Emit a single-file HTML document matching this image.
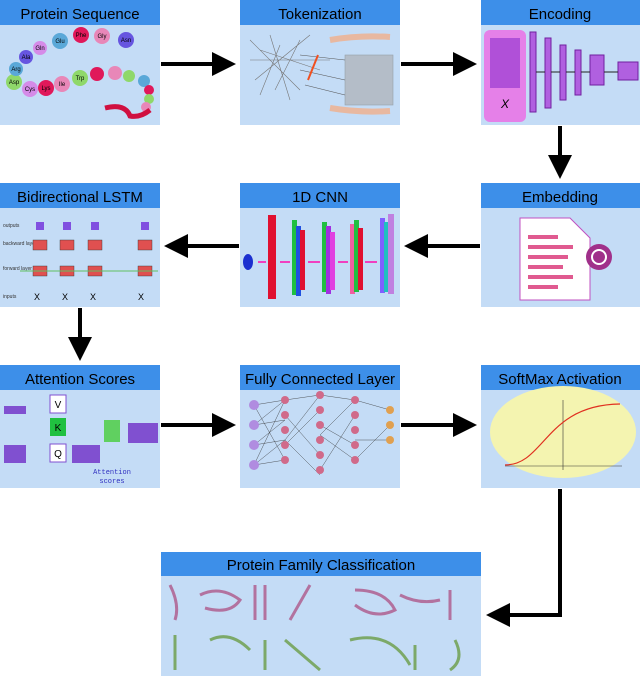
<!DOCTYPE html>
<html><head><meta charset="utf-8"><style>
body{margin:0;background:#fff;width:640px;height:676px;overflow:hidden;font-family:"Liberation Sans","DejaVu Sans",sans-serif}
svg{display:block}
</style></head><body>
<svg width="640" height="676" viewBox="0 0 640 676" xmlns="http://www.w3.org/2000/svg" font-family="Liberation Sans, DejaVu Sans, sans-serif">
<defs><marker id="ah" markerWidth="6" markerHeight="6" refX="5" refY="3" orient="auto" markerUnits="strokeWidth"><path d="M0,0 L6,3 L0,6 z" fill="#000"/></marker></defs>
<g id="panels">
<rect x="0" y="0" width="160" height="125" fill="#c4dcf6"/><rect x="0" y="0" width="160" height="25" fill="#3d8fe9"/>
<text x="80" y="19" text-anchor="middle" font-size="15">Protein Sequence</text>
<rect x="240" y="0" width="160" height="125" fill="#c4dcf6"/><rect x="240" y="0" width="160" height="25" fill="#3d8fe9"/>
<text x="320" y="19" text-anchor="middle" font-size="15">Tokenization</text>
<rect x="481" y="0" width="159" height="125" fill="#c4dcf6"/><rect x="481" y="0" width="159" height="25" fill="#3d8fe9"/>
<text x="560" y="19" text-anchor="middle" font-size="15">Encoding</text>
<rect x="0" y="183" width="160" height="124" fill="#c4dcf6"/><rect x="0" y="183" width="160" height="25" fill="#3d8fe9"/>
<text x="80" y="202" text-anchor="middle" font-size="15">Bidirectional LSTM</text>
<rect x="240" y="183" width="160" height="124" fill="#c4dcf6"/><rect x="240" y="183" width="160" height="25" fill="#3d8fe9"/>
<text x="320" y="202" text-anchor="middle" font-size="15">1D CNN</text>
<rect x="481" y="183" width="159" height="124" fill="#c4dcf6"/><rect x="481" y="183" width="159" height="25" fill="#3d8fe9"/>
<text x="560" y="202" text-anchor="middle" font-size="15">Embedding</text>
<rect x="0" y="365" width="160" height="123" fill="#c4dcf6"/><rect x="0" y="365" width="160" height="25" fill="#3d8fe9"/>
<text x="80" y="384" text-anchor="middle" font-size="15">Attention Scores</text>
<rect x="240" y="365" width="160" height="123" fill="#c4dcf6"/><rect x="240" y="365" width="160" height="25" fill="#3d8fe9"/>
<text x="320" y="384" text-anchor="middle" font-size="15">Fully Connected Layer</text>
<rect x="481" y="365" width="159" height="123" fill="#c4dcf6"/><rect x="481" y="365" width="159" height="25" fill="#3d8fe9"/>
<text x="560" y="384" text-anchor="middle" font-size="15">SoftMax Activation</text>
<rect x="161" y="552" width="320" height="124" fill="#c4dcf6"/><rect x="161" y="552" width="320" height="24" fill="#3d8fe9"/>
<text x="321" y="570" text-anchor="middle" font-size="15">Protein Family Classification</text>
</g>
<g stroke="#000" stroke-width="4" fill="none">
<line x1="161" y1="64" x2="232" y2="64" marker-end="url(#ah)"/>
<line x1="401" y1="64" x2="473" y2="64" marker-end="url(#ah)"/>
<line x1="560" y1="126" x2="560" y2="175" marker-end="url(#ah)"/>
<line x1="480" y1="246" x2="408" y2="246" marker-end="url(#ah)"/>
<line x1="239" y1="246" x2="168" y2="246" marker-end="url(#ah)"/>
<line x1="80" y1="308" x2="80" y2="357" marker-end="url(#ah)"/>
<line x1="161" y1="425" x2="232" y2="425" marker-end="url(#ah)"/>
<line x1="401" y1="425" x2="473" y2="425" marker-end="url(#ah)"/>
<polyline points="560,489 560,615 490,615" marker-end="url(#ah)"/>
</g>
<g font-size="6" text-anchor="middle">
<circle cx="14" cy="82" r="8" fill="#8fd86a"/><circle cx="16" cy="69" r="7" fill="#5aa8d8"/><circle cx="26" cy="57" r="7" fill="#6655e0"/><circle cx="40" cy="48" r="7" fill="#d58be8"/><circle cx="60" cy="41" r="8" fill="#5aa8d8"/><circle cx="81" cy="35" r="8" fill="#e0185a"/><circle cx="102" cy="36" r="8" fill="#e887b8"/><circle cx="126" cy="40" r="8" fill="#6655e0"/>
<circle cx="30" cy="89" r="8" fill="#d58be8"/><circle cx="46" cy="88" r="8" fill="#e0185a"/><circle cx="62" cy="84" r="8" fill="#e887b8"/><circle cx="80" cy="78" r="8" fill="#8fd86a"/><circle cx="97" cy="74" r="7" fill="#e0185a"/><circle cx="115" cy="73" r="7" fill="#e887b8"/><circle cx="129" cy="76" r="6" fill="#8fd86a"/><circle cx="144" cy="81" r="6" fill="#5aa8d8"/><circle cx="149" cy="90" r="5" fill="#e0185a"/><circle cx="149" cy="99" r="5" fill="#8fd86a"/><circle cx="146" cy="107" r="5" fill="#e887b8"/>
<path d="M105,108 q20,-5 25,8 q10,2 20,-6" stroke="#d01040" stroke-width="5" fill="none"/>
<text x="14" y="84">Asp</text><text x="16" y="71">Arg</text><text x="26" y="59">Ala</text><text x="40" y="50">Gln</text><text x="60" y="43">Glu</text><text x="81" y="37">Phe</text><text x="102" y="38">Gly</text><text x="126" y="42">Asn</text><text x="30" y="91">Cys</text><text x="46" y="90">Lys</text><text x="62" y="86">Ile</text><text x="80" y="80">Trp</text>
</g>
<g stroke="#777" stroke-width="0.6">
<path d="M250,40 L300,90 M255,80 L310,35 M260,50 L320,70 M270,35 L290,100 M250,60 L330,60 M280,45 L260,95 M300,40 L275,90"/>
<rect x="345" y="55" width="48" height="50" fill="#aaa" opacity="0.6"/>
<path d="M300,55 L345,60 M300,70 L345,80 M305,85 L345,95" stroke="#555"/>
<path d="M330,40 q30,-5 60,-3 M330,108 q30,5 60,3" stroke="#e8b8a0" stroke-width="6" fill="none"/>
<path d="M318,55 L308,80" stroke="#f05020" stroke-width="2"/>
</g>
<g>
<rect x="484" y="30" width="42" height="92" rx="6" fill="#e580e8"/>
<rect x="490" y="38" width="30" height="50" fill="#b050d8"/>
<text x="505" y="108" font-size="12" text-anchor="middle" font-style="italic">X</text>
<g fill="#b060e0" stroke="#7020a0">
<rect x="530" y="32" width="6" height="80"/><rect x="545" y="38" width="6" height="70"/><rect x="560" y="45" width="6" height="55"/><rect x="575" y="50" width="6" height="45"/><rect x="590" y="55" width="14" height="30"/><rect x="618" y="62" width="20" height="18"/>
</g>
<path d="M536,72 H545 M551,72 H560 M566,72 H575 M581,72 H590 M604,72 H618" stroke="#222"/>
</g>
<path d="M520,218 H570 L590,238 V300 H520 Z" fill="#fff" stroke="#c050c0"/>
<g fill="#e05a90"><rect x="528" y="235" width="30" height="4"/><rect x="528" y="245" width="45" height="4"/><rect x="528" y="255" width="40" height="4"/><rect x="528" y="265" width="35" height="4"/><rect x="528" y="275" width="45" height="4"/><rect x="528" y="285" width="30" height="4"/></g>
<circle cx="599" cy="257" r="13" fill="#a0308a"/><circle cx="599" cy="257" r="7" fill="none" stroke="#fff" stroke-width="2"/>
<ellipse cx="248" cy="262" rx="5" ry="8" fill="#1a2fd0"/>
<rect x="268" y="215" width="8" height="84" fill="#e01030"/>
<rect x="292" y="220" width="5" height="75" fill="#20c040"/><rect x="296" y="226" width="5" height="70" fill="#2050e0"/><rect x="300" y="230" width="5" height="60" fill="#e01030"/>
<rect x="322" y="222" width="5" height="70" fill="#20c040"/><rect x="326" y="226" width="5" height="68" fill="#a030e0"/><rect x="330" y="232" width="5" height="58" fill="#e040e0"/>
<rect x="350" y="224" width="5" height="70" fill="#f060a0"/><rect x="354" y="220" width="5" height="72" fill="#20c040"/><rect x="358" y="228" width="5" height="62" fill="#e01030"/>
<rect x="380" y="218" width="5" height="75" fill="#8060ff"/><rect x="384" y="222" width="5" height="70" fill="#20c0c0"/><rect x="388" y="214" width="6" height="80" fill="#c080e0"/>
<path d="M258,262 h8 M280,262 h10 M308,262 h12 M338,262 h10 M365,262 h12" stroke="#f040c0" stroke-width="2"/>
<g font-size="5" fill="#333"><text x="3" y="227">outputs</text><text x="3" y="245">backward layer</text><text x="3" y="270">forward layer</text><text x="3" y="298">inputs</text></g>
<g fill="#e05050" stroke="#333" stroke-width="0.4">
<rect x="33" y="240" width="14" height="10"/><rect x="60" y="240" width="14" height="10"/><rect x="88" y="240" width="14" height="10"/><rect x="138" y="240" width="14" height="10"/>
<rect x="33" y="266" width="14" height="10"/><rect x="60" y="266" width="14" height="10"/><rect x="88" y="266" width="14" height="10"/><rect x="138" y="266" width="14" height="10"/>
</g>
<g fill="#8050e0"><rect x="36" y="222" width="8" height="8"/><rect x="63" y="222" width="8" height="8"/><rect x="91" y="222" width="8" height="8"/><rect x="141" y="222" width="8" height="8"/></g>
<path d="M20,271 H158" stroke="#60c060"/>
<g font-size="9"><text x="34" y="300">X</text><text x="62" y="300">X</text><text x="90" y="300">X</text><text x="138" y="300">X</text></g>
<g fill="#8050d0"><rect x="4" y="406" width="22" height="8"/><rect x="4" y="445" width="22" height="18"/><rect x="72" y="445" width="28" height="18"/><rect x="128" y="423" width="30" height="20"/></g>
<rect x="50" y="395" width="16" height="18" fill="#fff" stroke="#8050d0"/><rect x="50" y="418" width="16" height="18" fill="#20c040"/><rect x="50" y="444" width="16" height="18" fill="#fff" stroke="#8050d0"/>
<text x="58" y="408" font-size="10" text-anchor="middle">V</text><text x="58" y="431" font-size="10" text-anchor="middle">K</text><text x="58" y="457" font-size="10" text-anchor="middle">Q</text>
<rect x="104" y="420" width="16" height="22" fill="#60d060"/>
<text x="112" y="474" font-size="7" fill="#3030c0" text-anchor="middle" font-family="Liberation Mono, monospace">Attention</text><text x="112" y="483" font-size="7" fill="#3030c0" text-anchor="middle" font-family="Liberation Mono, monospace">scores</text>
<g stroke="#333" stroke-width="0.4" fill="none">
<path d="M254,405 L285,400 L254,425 L285,420 L254,445 L285,440 L254,465 L285,460 M285,400 L320,395 L285,440 L320,475 M320,395 L355,400 L320,435 L355,460 L390,425 M355,400 L390,410 M355,440 L390,440 M254,405 L285,460 M254,465 L285,400 M285,415 L320,455 M285,445 L320,410 M320,470 L355,415 M320,425 L355,445"/>
</g>
<g fill="#b08ce0"><circle cx="254" cy="405" r="5"/><circle cx="254" cy="425" r="5"/><circle cx="254" cy="445" r="5"/><circle cx="254" cy="465" r="5"/></g>
<g fill="#d06a8a"><circle cx="285" cy="400" r="4"/><circle cx="285" cy="415" r="4"/><circle cx="285" cy="430" r="4"/><circle cx="285" cy="445" r="4"/><circle cx="285" cy="460" r="4"/><circle cx="320" cy="395" r="4"/><circle cx="320" cy="410" r="4"/><circle cx="320" cy="425" r="4"/><circle cx="320" cy="440" r="4"/><circle cx="320" cy="455" r="4"/><circle cx="320" cy="470" r="4"/><circle cx="355" cy="400" r="4"/><circle cx="355" cy="415" r="4"/><circle cx="355" cy="430" r="4"/><circle cx="355" cy="445" r="4"/><circle cx="355" cy="460" r="4"/></g>
<g fill="#e0a050"><circle cx="390" cy="410" r="4"/><circle cx="390" cy="425" r="4"/><circle cx="390" cy="440" r="4"/></g>
<ellipse cx="563" cy="432" rx="73" ry="46" fill="#f4f4b0"/>
<path d="M505,466 H622 M563,400 V470" stroke="#333" stroke-width="0.6"/>
<path d="M505,465 C545,465 545,405 620,404" stroke="#e03020" stroke-width="1.2" fill="none"/>
<g stroke-width="3" fill="none" opacity="0.85">
<path d="M170,585 q10,20 5,35 M200,595 q20,-10 40,5 q-10,15 -35,8 M255,585 v35 M265,585 v35 M290,620 l20,-35 M355,590 q30,0 40,20 q-20,10 -40,-5 M400,595 q20,10 40,5 M450,590 v30" stroke="#b06090"/>
<path d="M175,635 v35 M210,640 q20,-10 40,10 M265,640 v30 M285,640 l35,30 M350,640 q40,-10 60,25 M415,645 v25 M455,640 q10,20 -5,30" stroke="#70a050"/>
</g>
</svg>
</body></html>
